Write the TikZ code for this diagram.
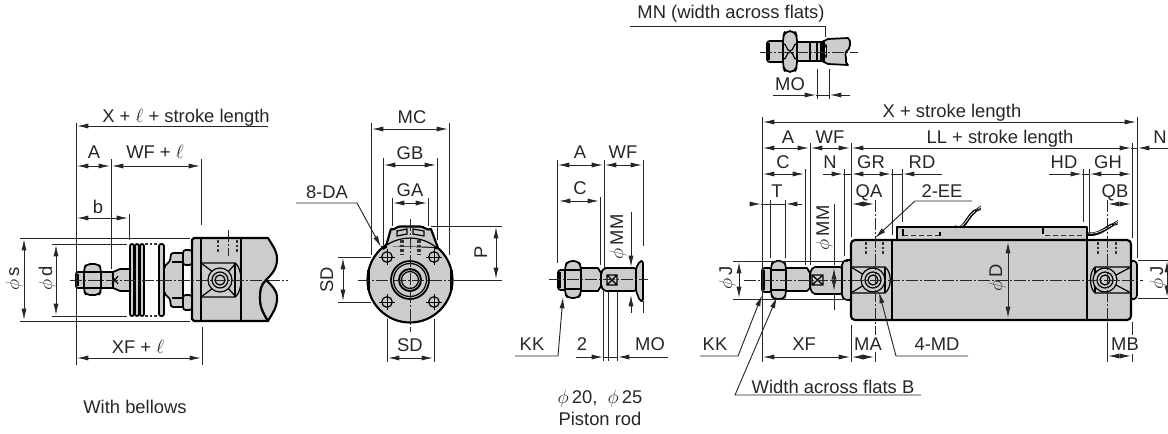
\documentclass[tikz,border=0pt]{standalone}
\usepackage{fontspec}
\setmainfont{Liberation Sans}
\usetikzlibrary{arrows.meta}
\definecolor{partgray}{HTML}{CCCCCC}
\tikzset{
  >={Latex[length=8.5pt,width=3.8pt]},
  lbl/.style={anchor=base,inner sep=0pt,font=\fontsize{13.8}{16}\selectfont,text=black!85},
  rlbl/.style={lbl,rotate=90},
  thin line/.style={line width=0.7pt,draw=black!85},
  ext/.style={thin line},
  dimline/.style={thin line},
  part/.style={draw=black,line width=1.6pt,fill=partgray,line join=round},
  partsm/.style={part,line width=1.3pt},
  partthin/.style={draw=black,line width=0.9pt},
  center line/.style={line width=0.6pt,draw=black!85,dash pattern=on 9pt off 1.5pt on 1.5pt off 1.5pt},
  hidden/.style={line width=0.9pt,draw=black!80,dash pattern=on 2pt off 1.5pt},
}
\newcommand{\phisym}{$\phi$}
\begin{document}
\begin{tikzpicture}[x=0.75pt,y=-0.75pt]
\useasboundingbox (0,0) rectangle (1168,433);

%%%%%%% LEFT: with bellows %%%%%%%
\path[part] (192,240) -- (194,238) -- (268,238) to[out=-60,in=90] (277,259) to[out=-90,in=45] (266,280) to[out=-135,in=90] (260,298) to[out=-90,in=120] (268,321) -- (194,321) -- (192,319) -- cycle;
\path[part] (266,280) to[out=-135,in=90] (260,298) to[out=-90,in=120] (268,321) to[out=60,in=-90] (277,298) to[out=90,in=-45] (266,280) -- cycle;
\draw[partthin,line width=1.1pt] (201,238) -- (201,321) (241,238) -- (241,321);
\draw[partthin] (201,263) -- (235,263) .. controls (243,268) and (243,292) .. (235,297) -- (201,297);
\draw[partthin] (235,263) -- (235,297);
\draw[partthin] (201,263) -- (213,272) (201,297) -- (213,288) (236,263) -- (228,272) (236,297) -- (228,288);
\draw[partthin,fill=partgray] (220,280) circle (12);
\draw[partthin] (220,280) circle (8) (220,280) circle (5);
\draw[hidden] (218,240) -- (218,252) (237,240) -- (237,252);
\draw[center line] (228,230) -- (228,256);
% collars
\path[partsm,rounded corners=2pt] (192,250) -- (183,250) -- (183,265) -- (192,265) -- cycle;
\path[partsm,rounded corners=2pt] (192,310) -- (183,310) -- (183,295) -- (192,295) -- cycle;
% bellows front piece
\path[partsm] (183,262) -- (183,253) -- (173,253) to[out=180,in=45] (169,262) to[out=225,in=90] (164,269) -- (164,291) to[out=-90,in=135] (169,298) to[out=-45,in=180] (173,307) -- (183,307) -- (183,298) -- cycle;
\draw[partthin] (172,262) -- (183,262) (172,298) -- (183,298);
\path[partsm,rounded corners=1.5pt] (159,244) rectangle (164,316);
% bellows ribs
\path[partsm,rounded corners=1.5pt] (130,244) rectangle (134,316);
\path[partsm,rounded corners=1.5pt] (135,244) rectangle (139,316);
\path[partsm,rounded corners=1.5pt] (140,244) rectangle (144,316);
\draw[hidden] (145,244) -- (158,244) (145,316) -- (158,316);
% rod
\path[partsm] (113,272) -- (120,269) -- (130,269) -- (130,291) -- (120,291) -- (113,288) -- cycle;
\path[partsm] (100,272) rectangle (113,288);
\path[partsm,rounded corners=1.5pt] (76,272) rectangle (88,288);
\draw[partthin] (78,274) -- (78,286);
\path[partsm,rounded corners=3pt] (86,264) -- (99,264) -- (101,269) -- (101,291) -- (99,295) -- (86,295) -- (84,291) -- (84,269) -- cycle;
\draw[partthin] (85,272) -- (100,272) (85,288) -- (100,288);
\draw[partthin] (112,276) -- (118,284) (112,284) -- (118,276);
\draw[center line] (70,280) -- (288,280);

\draw[ext] (76,123) -- (76,365);
\draw[ext] (111,159) -- (111,269);
\draw[ext] (201,159) -- (201,225);
\draw[ext] (202,327) -- (202,365);
\draw[ext] (129,214) -- (129,240);
\draw[ext] (20,238) -- (190,238) (20,321) -- (190,321);
\draw[ext] (52,244) -- (127,244) (52,316) -- (127,316);
\draw[dimline,<-] (77,126) -- (268,126);
\draw[dimline,<->] (77,166) -- (110,166);
\draw[dimline,<->] (112,166) -- (200,166);
\draw[dimline,<->] (77,218) -- (128,218);
\draw[dimline,<->] (24,239) -- (24,320);
\draw[dimline,<->] (56,245) -- (56,315);
\draw[dimline,<->] (77,358) -- (201,358);

\node[lbl] (t1) at (186,122) {X + $\ell$ + stroke length};
\node[lbl] (t2) at (94,158) {A};
\node[lbl] (t3) at (155,158) {WF + $\ell$};
\node[lbl] (t4) at (98,213) {b};
\node[rlbl] (t5) at (19,279) {\phisym\,s};
\node[rlbl] (t6) at (52,278) {\phisym\,d};
\node[lbl] (t7) at (138,353) {XF + $\ell$};
\node[lbl] (t8) at (135,413) {With bellows};

%%%%%%% FRONT VIEW %%%%%%%
\path[part] (410,280) circle (42.5);
\path[part] (382,247) to[out=-65,in=-110] (391,229) to[out=-30,in=180] (400,226.5) -- (420,226.5) to[out=0,in=-150] (431,229) -- (438,248) -- cycle;
\path[fill=partgray] (387,246) -- (434,248) -- (434,262) -- (387,262) -- cycle;
\draw[partthin] (384,247) arc (-128:-50:42);
\draw[partthin,fill=partgray] (397,231) -- (407,229) -- (407,234) -- (397,236) -- cycle;
\draw[partthin,fill=partgray] (413,229) -- (424,231) -- (424,236) -- (413,234) -- cycle;
\draw[hidden] (401,240) -- (401,255) (403,240) -- (403,255) (418,240) -- (418,255) (420,240) -- (420,255);
\foreach \bx/\by in {387/257,434/257,387/302,434/302}{
  \draw[partthin] (\bx,\by) circle (5.3);
  \draw[line width=0.6pt] (\bx-8,\by) -- (\bx+8,\by) (\bx,\by-8) -- (\bx,\by+8);
}
\draw[line width=1.3pt] (410,280) circle (19);
\draw[partthin] (410,280) circle (16.5);
\draw[line width=1.4pt] (410,280) circle (11);
\draw[partthin] (410,280) circle (8.5);
\draw[line width=1.6pt] (368.5,270) -- (368.5,290) (451.5,270) -- (451.5,290);
\draw[center line] (358,280) -- (462,280);
\draw[center line] (410,219) -- (410,332);

\draw[ext] (371,123) -- (371,255) (449,123) -- (449,255);
\draw[ext] (383,158) -- (383,245) (437,158) -- (437,240);
\draw[ext] (392,198) -- (392,226) (428,198) -- (428,226);
\draw[ext] (431,226) -- (502,226) (452,280) -- (502,280);
\draw[ext] (338,257) -- (371,257) (338,302) -- (371,302);
\draw[ext] (387,319) -- (387,362) (434,319) -- (434,362);
\draw[dimline,<->] (372,129) -- (448,129);
\draw[dimline,<->] (384,165) -- (436,165);
\draw[dimline,<->] (393,203) -- (427,203);
\draw[dimline,<->] (343,258) -- (343,301);
\draw[dimline,<->] (496,227) -- (496,279);
\draw[dimline,<->] (388,358) -- (433,358);
\draw[dimline,->] (296,203) -- (357,203) -- (381,247);

\node[lbl] (t10) at (412,123) {MC};
\node[lbl] (t11) at (410,159) {GB};
\node[lbl] (t12) at (410,196) {GA};
\node[lbl] (t13) at (327,198) {8-DA};
\node[rlbl] (t14) at (333,280) {SD};
\node[rlbl] (t15) at (487,252) {P};
\node[lbl] (t16) at (410,351) {SD};

%%%%%%% PISTON ROD %%%%%%%
\path[partsm,rounded corners=1.5pt] (636,268) -- (640,261) -- (643,261) -- (643,301) -- (640,301) -- (636,291) -- cycle;
\path[partsm,rounded corners=1.5pt] (604,268) -- (636,268) -- (636,291) -- (604,291) -- (601,286) -- (601,273) -- cycle;
\path[partsm] (578,268) -- (598,268) -- (601,273) -- (601,286) -- (598,291) -- (578,291) -- cycle;
\path[partsm,rounded corners=2pt] (558,270) rectangle (568,290);
\draw[partthin] (560,272) -- (560,288);
\path[partsm,rounded corners=3pt] (568,261) -- (578,261) -- (581,266) -- (581,294) -- (578,298) -- (568,298) -- (565,294) -- (565,266) -- cycle;
\draw[partthin] (566,270) -- (580,270) (566,289) -- (580,289);
\draw[partthin] (607,275) rectangle (617,285) (607,275) -- (617,285) (607,285) -- (617,275);
\draw[center line] (549,279) -- (648,279);

\draw[ext] (557,160) -- (557,263);
\draw[ext] (604,160) -- (604,268) (603,291) -- (603,361);
\draw[ext] (643,160) -- (643,246) (643,301) -- (643,313);
\draw[ext] (600,197) -- (600,265);
\draw[ext] (608,292) -- (608,361) (617,292) -- (617,361);
\draw[dimline,<->] (558,165) -- (603,165);
\draw[dimline,<->] (605,165) -- (642,165);
\draw[dimline,<->] (559,201) -- (599,201);
\draw[dimline,->] (631,212) -- (631,267);
\draw[dimline,->] (631,313) -- (631,295);
\draw[dimline,->] (576,357) -- (603,357);
\draw[dimline] (603,357) -- (617,357);
\draw[dimline,->] (668,357) -- (618,357);
\draw[dimline,->] (515,356) -- (558,356) -- (563,297);

\node[lbl] (t20) at (580,158) {A};
\node[lbl] (t21) at (623,158) {WF};
\node[lbl] (t22) at (580,194) {C};
\node[lbl] (t23) at (532,350) {KK};
\node[lbl] (t24) at (582,350) {2};
\node[lbl] (t25) at (650,350) {MO};
\node[rlbl] (t26) at (623,237) {\phisym\,MM};
\node[lbl] (t27) at (600,403) {\phisym\,20,\ \ \phisym\,25};
\node[lbl] (t28) at (600,425) {Piston rod};

%%%%%%% SMALL TOP ROD %%%%%%%
\path[partsm] (828,39) -- (848,38) to[out=-30,in=90] (850,45) to[out=-90,in=45] (846,52) to[out=-135,in=90] (846,58) to[out=-90,in=160] (848,65) -- (828,64) -- (822,61) -- (822,42) -- cycle;
\path[partsm] (797,42) -- (822,42) -- (822,61) -- (797,61) -- cycle;
\draw[partthin] (810,42) -- (810,61) (817,41) -- (817,62) (821,41) -- (821,62) (824,40) -- (824,63);
\path[partsm,rounded corners=2pt] (767,41) rectangle (785,62);
\draw[partthin] (769,43) -- (769,60);
\path[partsm,rounded corners=4pt] (785,31) -- (795,31) -- (797,37) -- (797,66) -- (795,72) -- (785,72) -- (783,66) -- (783,37) -- cycle;
\draw[partthin] (783,44) to[out=30,in=180] (790,51) to[out=0,in=150] (797,44);
\draw[partthin] (783,59) to[out=-30,in=180] (790,52) to[out=0,in=210] (797,59);
\draw[center line] (760,52) -- (858,52);
\draw[line width=0.6pt,<->,>={Latex[length=4pt,width=2pt]}] (826,42) -- (826,60);
\draw[ext] (630,26) -- (825,26) -- (825,37);
\draw[ext] (817,69) -- (817,99) (829,69) -- (829,99);
\draw[dimline,->] (773,95) -- (816,95);
\draw[dimline] (816,95) -- (829,95);
\draw[dimline,->] (850,95) -- (830,95);
\node[lbl] (t30) at (731,18) {MN (width across flats)};
\node[lbl] (t31) at (790,90) {MO};

%%%%%%% MAIN SIDE VIEW %%%%%%%
% wires
\draw[line width=2.6pt,draw=black,line cap=round] (955,227) to[out=-35,in=215] (975,211);
\draw[line width=2.6pt,draw=black,line cap=round] (1087,234) to[out=-8,in=210] (1112,225);
\draw[line width=0.5pt,white] (955,226) to[out=-35,in=215] (975,211) (1087,233) to[out=-8,in=210] (1112,225);
\draw[line width=0.5pt] (975,210) -- (981,206) (975,211) -- (981,208) (975,212) -- (981,209.5);
\draw[line width=0.5pt] (1112,224) -- (1118,220.5) (1112,225) -- (1118,222.5) (1112,226) -- (1118,224);
% sensor
\path[part] (897,240) -- (897,227) -- (1087,227) -- (1087,240) -- cycle;
\draw[partthin] (1043,227) -- (1043,234);
\draw[hidden,dash pattern=on 4pt off 2pt] (903,235.5) -- (940,235.5) (1045,235.5) -- (1085,235.5);
\draw[partthin] (903,229) -- (903,235.5) (940,232) -- (940,235.5);
% body
\path[part,rounded corners=3pt] (851,320) -- (851,240) -- (1131,240) -- (1131,320) -- cycle;
\draw[partthin,line width=1.1pt] (892,240) -- (892,320) (1087,240) -- (1087,320);
\draw[hidden] (866,242) -- (866,254) (883,242) -- (883,254) (1098,242) -- (1098,254) (1116,242) -- (1116,254);
% end plate
\path[partsm,rounded corners=2pt] (1131,260) -- (1137,262) -- (1137,298) -- (1131,300) -- cycle;
% right port
\draw[partthin] (1131,267) -- (1095,267) .. controls (1089,272) and (1089,288) .. (1095,293) -- (1131,293);
\draw[partthin] (1095,267) -- (1095,293);
\draw[partthin] (1131,267) -- (1116,275) (1131,293) -- (1116,285);
\draw[partthin,fill=partgray] (1105,280) circle (12);
\draw[partthin] (1105,280) circle (8) (1105,280) circle (5);
% left port
\draw[partthin] (851,267) -- (885,267) .. controls (892,272) and (892,288) .. (885,293) -- (851,293);
\draw[partthin] (885,267) -- (885,293);
\draw[partthin] (851,267) -- (864,275) (851,293) -- (864,285);
\draw[partthin,fill=partgray] (873,280) circle (12);
\draw[partthin] (873,280) circle (8) (873,280) circle (5);
% collar
\path[partsm,rounded corners=1.5pt] (851,260) -- (845,260) -- (842,263) -- (842,297) -- (845,300) -- (851,300) -- cycle;
% rod
\path[partsm,rounded corners=1.5pt] (813,267) -- (842,267) -- (842,294) -- (813,294) -- (810,288) -- (810,273) -- cycle;
\path[partsm] (785,268) -- (807,268) -- (810,273) -- (810,288) -- (807,291) -- (785,291) -- cycle;
\path[partsm,rounded corners=2pt] (762,268) rectangle (772,292);
\draw[partthin] (764,270) -- (764,290);
\path[partsm,rounded corners=3pt] (773,261) -- (784,261) -- (786,266) -- (786,294) -- (784,299) -- (773,299) -- (771,294) -- (771,266) -- cycle;
\draw[partthin] (771,270) -- (786,270) (771,290) -- (786,290);
\draw[partthin] (812,275) rectangle (823,285) (812,275) -- (823,285) (812,285) -- (823,275);
\draw[center line] (744,280) -- (1143,280);
\draw[center line] (875,200) -- (875,335);
\draw[center line] (1107,200) -- (1107,320);

\draw[ext] (762,117) -- (762,362);
\draw[ext] (1137,117) -- (1137,258);
\draw[ext] (810,143) -- (810,265);
\draw[ext] (851,143) -- (851,237);
\draw[ext] (1132,143) -- (1132,238);
\draw[ext] (805,169) -- (805,265);
\draw[ext] (844,169) -- (844,256);
\draw[ext] (892,169) -- (892,235) (902,169) -- (902,222);
\draw[ext] (1083,169) -- (1083,222) (1089,169) -- (1089,235);
\draw[ext] (770,200) -- (770,258) (785,200) -- (785,258);
\draw[ext] (834,204) -- (834,265) (834,295) -- (834,310);
\draw[ext] (733,261) -- (848,261) (733,299) -- (848,299);
\draw[ext] (1138,260) -- (1168,260) (1138,298) -- (1168,298);
\draw[ext] (851,325) -- (851,362) (875,352) -- (875,362);
\draw[ext] (1107,322) -- (1107,362) (1132,322) -- (1132,335) (1132,354) -- (1132,362);

\draw[dimline,<->] (763,122) -- (1136,122);
\draw[dimline,<->] (763,148) -- (809,148);
\draw[dimline,<->] (811,148) -- (850,148);
\draw[dimline,<->] (852,148) -- (1131,148);
\draw[dimline] (1131,148) -- (1137,148);
\draw[dimline,->] (1168,148) -- (1138,148);
\draw[dimline,<->] (763,174) -- (804,174);
\draw[dimline,->] (823,174) -- (843,174);
\draw[dimline] (843,174) -- (851,174);
\draw[dimline,<->] (852,174) -- (891,174);
\draw[dimline,->] (942,174) -- (903,174);
\draw[dimline] (891,174) -- (903,174);
\draw[dimline,->] (1049,174) -- (1082,174);
\draw[dimline] (1082,174) -- (1090,174);
\draw[dimline,<->] (1090,174) -- (1131,174);
\draw[dimline,->] (753,204) -- (761,204);
\draw[dimline] (761,204) -- (785,204);
\draw[dimline,->] (802,204) -- (786,204);
\draw[dimline,<->] (852,204) -- (874,204);
\draw[dimline,<->] (1108,204) -- (1131,204);
\draw[dimline,<->] (739,262) -- (739,298);
\draw[dimline,<->] (1167,261) -- (1167,297);
\draw[dimline,<->] (834,268) -- (834,291);
\draw[dimline,<->] (1008,242) -- (1008,318);
\draw[dimline,<->] (763,357) -- (850,357);
\draw[dimline,<->] (852,357) -- (874,357);
\draw[dimline,<->] (1108,356) -- (1131,356);
\draw[dimline,->] (972,201) -- (915,201) -- (875,238);
\draw[dimline,->] (968,356) -- (896,356) -- (879,292);
\draw[dimline,->] (700,356) -- (738,356) -- (762,295);
\draw[dimline,->] (921,395) -- (735,395) -- (777,297);

\node[lbl] (t40) at (952,117) {X + stroke length};
\node[lbl] (t41) at (788,143) {A};
\node[lbl] (t42) at (830,143) {WF};
\node[lbl] (t43) at (1000,143) {LL + stroke length};
\node[lbl] (t44) at (1160,143) {N};
\node[lbl] (t45) at (783,168) {C};
\node[lbl] (t46) at (830,168) {N};
\node[lbl] (t47) at (871,168) {GR};
\node[lbl] (t48) at (922,168) {RD};
\node[lbl] (t49) at (1064,168) {HD};
\node[lbl] (t50) at (1108,168) {GH};
\node[lbl] (t51) at (777,197) {T};
\node[lbl] (t52) at (869,197) {QA};
\node[lbl] (t53) at (942,197) {2-EE};
\node[lbl] (t54) at (1115,197) {QB};
\node[rlbl] (t55) at (829,228) {\phisym\,MM};
\node[rlbl] (t56) at (732,278) {\phisym\,J};
\node[rlbl] (t57) at (1002,278) {\phisym\,D};
\node[rlbl] (t58) at (1163,278) {\phisym\,J};
\node[lbl] (t59) at (715,350) {KK};
\node[lbl] (t60) at (804,350) {XF};
\node[lbl] (t61) at (868,350) {MA};
\node[lbl] (t62) at (937,350) {4-MD};
\node[lbl] (t63) at (1125,350) {MB};
\node[lbl] (t64) at (833,393) {Width across flats B};
\end{tikzpicture}
\end{document}
